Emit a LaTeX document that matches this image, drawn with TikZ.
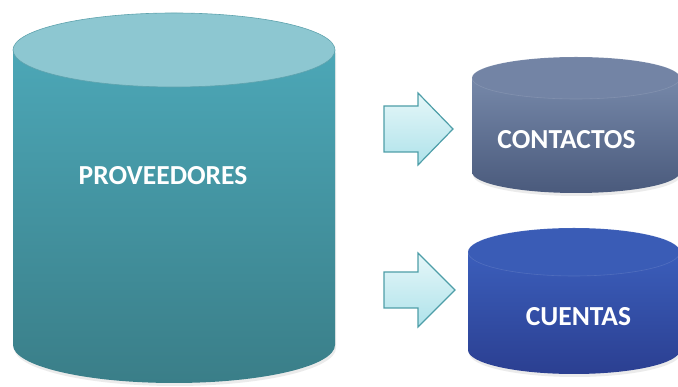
\documentclass[tikz,border=0pt]{standalone}
\usepackage{fontspec}
\setmainfont{Carlito}
\begin{document}
\begin{tikzpicture}[x=1pt,y=1pt,
  label/.style={text=white,font=\fontsize{27.5}{32}\selectfont\bfseries,inner sep=0pt},
  shadowfill/.style={fill=black,opacity=0.08},
  blockarrow/.style={draw=arrowedge,line width=1.2pt,line join=miter,top color=arrowtop,bottom color=arrowbot}]
\definecolor{provtop}{HTML}{4CA7B7}
\definecolor{provbot}{HTML}{3A7E88}
\definecolor{provcap}{HTML}{8DC7D1}
\definecolor{provcapedge}{HTML}{5FA3AE}
\definecolor{conttop}{HTML}{7688A9}
\definecolor{contbot}{HTML}{4A5A7C}
\definecolor{contcap}{HTML}{7384A5}
\definecolor{cuentop}{HTML}{3B5EBB}
\definecolor{cuenbot}{HTML}{2B3F91}
\definecolor{cuencap}{HTML}{3A5CB6}
\definecolor{arrowedge}{HTML}{4E9EA8}
\definecolor{arrowtop}{HTML}{E6F7F9}
\definecolor{arrowbot}{HTML}{AEE2EA}
\useasboundingbox (0,0) rectangle (678,387);

% PROVEEDORES cylinder
\fill[shadowfill] (14,334) -- (14,39) arc[start angle=180,end angle=360,x radius=161,y radius=38] -- (336,334) -- cycle;
\shade[top color=provtop,bottom color=provbot] (13,337) -- (13,42) arc[start angle=180,end angle=360,x radius=161,y radius=38] -- (335,337) -- cycle;
\fill[provcap] (174,337) ellipse[x radius=161,y radius=37];
\draw[provcapedge,line width=0.6pt] (174,337) ellipse[x radius=161,y radius=37];
\node[label] (prov) at (163,211.5) {PROVEEDORES};

% CONTACTOS cylinder
\fill[shadowfill] (473,307) -- (473,212) arc[start angle=180,end angle=360,x radius=104,y radius=21] -- (681,307) -- cycle;
\shade[top color=conttop,bottom color=contbot] (472,309) -- (472,215) arc[start angle=180,end angle=360,x radius=104,y radius=21] -- (680,309) -- cycle;
\fill[contcap] (576,309) ellipse[x radius=104,y radius=21];
\draw[white,opacity=0.12,line width=0.6pt] (576,309) ellipse[x radius=104,y radius=21];
\node[label] (cont) at (566.5,247) {CONTACTOS};

% CUENTAS cylinder
\fill[shadowfill] (469,132) -- (469,34) arc[start angle=180,end angle=360,x radius=106,y radius=24] -- (681,132) -- cycle;
\shade[top color=cuentop,bottom color=cuenbot] (468,135) -- (468,37) arc[start angle=180,end angle=360,x radius=106,y radius=24] -- (680,135) -- cycle;
\fill[cuencap] (574,135) ellipse[x radius=106,y radius=24];
\draw[white,opacity=0.12,line width=0.6pt] (574,135) ellipse[x radius=106,y radius=24];
\node[label] (cuen) at (578.5,70) {CUENTAS};

% block arrows
\draw[blockarrow] (384,281) -- (418,281) -- (418,294) -- (453,258) -- (418,222) -- (418,235) -- (384,235) -- cycle;
\draw[blockarrow] (384,115) -- (418,115) -- (418,134) -- (455,97) -- (418,60) -- (418,79) -- (384,79) -- cycle;
\end{tikzpicture}
\end{document}
